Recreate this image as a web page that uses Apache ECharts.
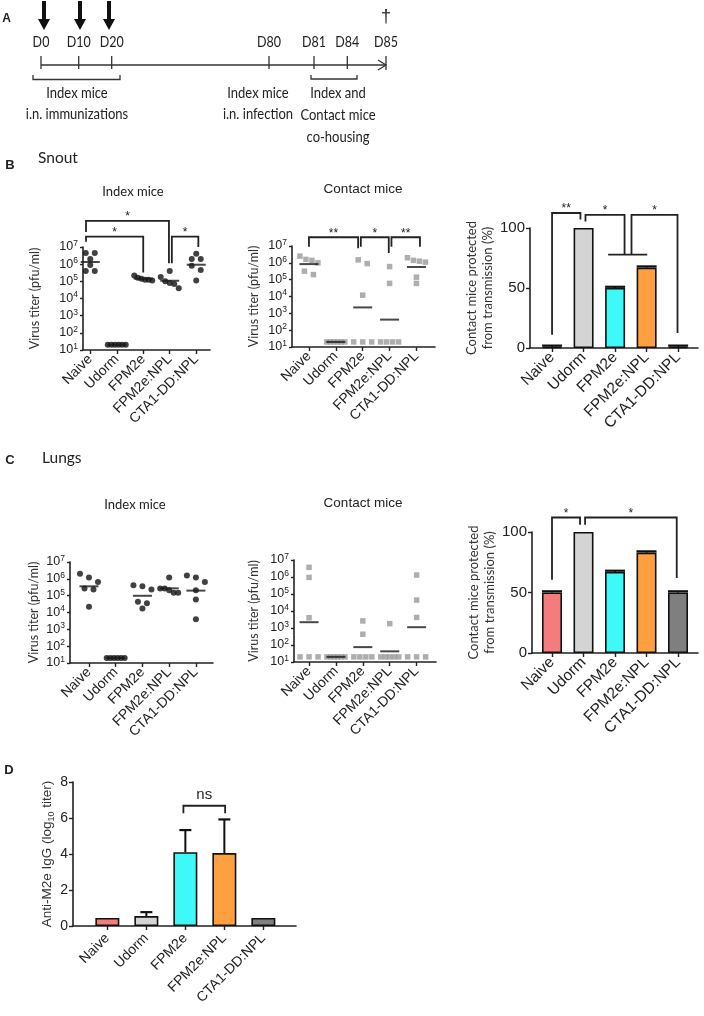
<!DOCTYPE html>
<html><head><meta charset="utf-8">
<script src="https://cdn.jsdelivr.net/npm/echarts@6/dist/echarts.min.js"></script>
<style>html,body{margin:0;padding:0;background:#fff}#c{width:704px;height:1016px}</style>
</head><body><div id="c"></div>
<script>
// ---------------- DATA ----------------
const groups = ['Naive', 'Udorm', 'FPM2e', 'FPM2e:NPL', 'CTA1-DD:NPL'];
const days = ['D0', 'D10', 'D20', 'D80', 'D81', 'D84', 'D85'];

// virus titers (pfu/ml), 6 mice per group
const snoutIndex = [
  [4.5e6, 4.5e6, 2e6, 9e5, 4e5, 4e5],
  [20, 20, 20, 20, 20, 20],
  [2.2e5, 1.6e5, 1.4e5, 1.25e5, 1.25e5, 1.1e5],
  [4e5, 1.8e5, 1e5, 8e4, 7e4, 4e4],
  [4e6, 2e6, 2e6, 8e5, 4.5e5, 1.1e5]
];
const snoutContact = [
  [2.5e6, 1.6e6, 1.4e6, 1e6, 3.2e5, 2e5],
  [20, 20, 20, 20, 20, 20],
  [1.5e6, 9e5, 1.2e4, 20, 20, 20],
  [6e5, 6e4, 20, 20, 20, 20],
  [2e6, 1.4e6, 1.25e6, 1.1e6, 1.4e5, 6e4]
];
const lungIndex = [
  [2e6, 1.2e6, 6.5e5, 2.7e5, 2.3e5, 2.2e4],
  [20, 20, 20, 20, 20, 20],
  [4.2e5, 3.6e5, 2.3e5, 4.4e4, 3.5e4, 1.7e4],
  [1.2e6, 2.7e5, 2.7e5, 2.1e5, 1.5e5, 1.5e5],
  [1.6e6, 1.2e6, 6.5e5, 2.1e5, 6e4, 4e3]
];
const lungContact = [
  [3.7e6, 9.5e5, 4e3, 20, 20, 20],
  [20, 20, 20, 20, 20, 20],
  [2.6e3, 4.3e2, 20, 20, 20, 20],
  [1.8e3, 20, 20, 20, 20, 20],
  [1.3e6, 4.4e4, 4.2e3, 20, 20, 20]
];
// contact mice protected from transmission (%)
const snoutProtected = [1, 100, 50, 67, 1];
const snoutProtectedErr = [1, 0, 1, 1, 1];
const lungProtected = [50, 100, 67, 83, 50];
const lungProtectedErr = [1, 0, 1, 1, 1];
// Anti-M2e IgG (log10 titer)
const antiM2eIgG = [0.45, 0.55, 4.1, 4.05, 0.45];
const antiM2eIgGErr = [0, 0.22, 1.23, 1.87, 0];

// significance brackets (x in group units, y in axis units; log axes as exponents)
const sigSnoutIndex = [
  {from: -0.16, to: 2.97, top: 8.52, legs: [7.88, 6.06], label: '*'},
  {from: -0.16, to: 2.0, top: 7.6, legs: [7.3, 5.51], label: '*'},
  {from: 3.08, to: 4.08, top: 7.6, legs: [6.06, 7.0], label: '*'}
];
const sigSnoutContact = [
  {from: 0, to: 1.83, top: 7.52, legs: [6.96, 6.86], label: '**'},
  {from: 1.93, to: 2.97, top: 7.52, legs: [6.96, 6.58], label: '*'},
  {from: 3.07, to: 4.13, top: 7.52, legs: [6.96, 6.96], label: '**'}
];
const sigSnoutBar = [
  {from: 0, to: 0.9, top: 112.5, legs: [11, 107], label: '**'},
  {from: 1.06, to: 2.3, top: 111, legs: [105.5, 77.75], label: '*'},
  {from: 2.52, to: 3.98, top: 111, legs: [77.75, 12.5], label: '*'}
];
const joinSnoutBar = {from: 1.78, to: 3.02, y: 77.75};
const sigLungBar = [
  {from: 0, to: 0.89, top: 112, legs: [60.6, 106], label: '*'},
  {from: 1.05, to: 3.96, top: 112, legs: [106, 62], label: '*'}
];
const sigIgG = [{from: 1.95, to: 3.02, top: 6.68, legs: [6.26, 6.26], label: 'ns'}];

// ---------------- STYLE ----------------
const AX = '#222';
const SANS = '"Liberation Sans", Arial, sans-serif';
const HUM = 'Lato, "Open Sans", sans-serif';
const barColors = ['#f47c7c', '#d4d4d4', '#3ff8f8', '#ffa040', '#7f7f7f'];
const grids = [
  {left: 83, top: 247, width: 127, height: 103},
  {left: 292, top: 246, width: 143, height: 101},
  {left: 530, top: 228, width: 168, height: 120},
  {left: 70, top: 562, width: 143, height: 101},
  {left: 294, top: 560, width: 142, height: 102},
  {left: 532, top: 532, width: 166, height: 121},
  {left: 73, top: 782, width: 223, height: 144}
];
const xRanges = [[-0.274, 4.52], [-0.63, 4.69], [-0.70, 4.63], [-0.71, 4.64], [-0.56, 4.72], [-0.635, 4.635], [-0.881, 4.837]];
const catIdx = groups.map((g, i) => i);

function xAx(i, fs, margin) {
  return {
    type: 'value', gridIndex: i, min: xRanges[i][0], max: xRanges[i][1],
    axisLine: {show: true, onZero: false, lineStyle: {color: AX, width: 1.6}},
    axisTick: {show: true, customValues: catIdx, length: 4, lineStyle: {color: AX, width: 1.4}},
    axisLabel: {customValues: catIdx, rotate: 45, formatter: v => groups[Math.round(v)], fontSize: fs,
      fontFamily: SANS, color: AX, margin: margin || 7},
    splitLine: {show: false}
  };
}
function logY(i, gap) {
  return {
    type: 'log', logBase: 10, gridIndex: i, min: 10, max: 1e7, splitNumber: 6,
    axisLine: {show: true, onZero: false, lineStyle: {color: AX, width: 1.6}},
    axisTick: {show: true, length: 3, lineStyle: {color: AX, width: 1.4}},
    minorTick: {show: false}, splitLine: {show: false},
    axisLabel: {margin: 5, formatter: v => '{b|10}{s|' + Math.round(Math.log10(v)) + '}',
      rich: {b: {fontSize: 12.5, fontFamily: SANS, color: AX, lineHeight: 16},
             s: {fontSize: 8.5, fontFamily: SANS, color: AX, lineHeight: 9, verticalAlign: 'top'}}},
    name: 'Virus titer (pfu/ml)', nameLocation: 'middle', nameGap: gap, nameRotate: 90,
    nameTextStyle: {fontFamily: HUM, fontSize: 12.5, color: '#333'}
  };
}
function pctY(i) {
  return {
    type: 'value', gridIndex: i, min: 0, max: 100, interval: 50,
    axisLine: {show: true, onZero: false, lineStyle: {color: AX, width: 1.6}},
    axisTick: {show: true, length: 4, lineStyle: {color: AX, width: 1.4}},
    splitLine: {show: false},
    axisLabel: {margin: 5, fontSize: 15, fontFamily: SANS, color: AX},
    name: 'Contact mice protected\nfrom transmission (%)', nameLocation: 'middle', nameGap: 33, nameRotate: 90,
    nameTextStyle: {fontFamily: HUM, fontSize: 13, lineHeight: 16, color: '#333'}
  };
}

// simple beeswarm spreading for overlapping points (pixel offsets)
function swarm(vals, maxSpread, maxStep) {
  const pxPerDec = 17;
  const order = vals.map((v, i) => i).sort((a, b) => vals[b] - vals[a]);
  const off = vals.map(() => 0);
  let cl = [];
  const flush = () => {
    const n = cl.length;
    if (n > 1) {
      const step = Math.min(maxStep, maxSpread / (n - 1));
      cl.forEach((k, j) => { off[k] = (j - (n - 1) / 2) * step; });
    }
    cl = [];
  };
  order.forEach(k => {
    if (cl.length && Math.abs(Math.log10(vals[cl[cl.length - 1]]) - Math.log10(vals[k])) * pxPerDec >= 5) flush();
    cl.push(k);
  });
  flush();
  return off;
}
function geoMean(a) { return Math.pow(10, a.reduce((s, v) => s + Math.log10(v), 0) / a.length); }

function scatterSeries(i, data, isIndex) {
  const pts = [];
  data.forEach((vals, g) => {
    const off = swarm(vals, 18, 9);
    vals.forEach((v, k) => pts.push({value: [g, v], symbolOffset: [off[k], 0]}));
  });
  return [
    {type: 'scatter', xAxisIndex: i, yAxisIndex: i, data: pts,
      symbol: isIndex ? 'circle' : 'rect', symbolSize: isIndex ? 6 : 5.5,
      itemStyle: {color: isIndex ? '#111' : '#9a9a9a'}, z: 3},
    {type: 'scatter', xAxisIndex: i, yAxisIndex: i, data: data.map((vals, g) => [g, geoMean(vals)]),
      symbol: 'rect', symbolSize: [19, 2], itemStyle: {color: '#1a1a1a'}, z: 4}
  ];
}
function barSeries(i, vals, errs, bw, capW) {
  return [
    {type: 'bar', xAxisIndex: i, yAxisIndex: i, barWidth: bw,
      data: vals.map((v, k) => ({value: [k, v], itemStyle: {color: barColors[k]}})),
      itemStyle: {borderColor: '#111', borderWidth: 1.6}, z: 2},
    {type: 'custom', xAxisIndex: i, yAxisIndex: i, z: 5,
      data: vals.map((v, k) => [k, v, errs[k]]),
      renderItem: (p, api) => {
        const e = api.value(2);
        if (!e) return null;
        const a = api.coord([api.value(0), api.value(1)]);
        const b = api.coord([api.value(0), api.value(1) + e]);
        return {type: 'group', children: [
          {type: 'line', shape: {x1: a[0], y1: a[1], x2: b[0], y2: b[1]}, style: {stroke: '#111', lineWidth: 2}},
          {type: 'line', shape: {x1: b[0] - capW / 2, y1: b[1], x2: b[0] + capW / 2, y2: b[1]}, style: {stroke: '#111', lineWidth: 2.2}}
        ]};
      }}
  ];
}

const chart = echarts.init(document.getElementById('c'));
const option = {
  animation: false,
  backgroundColor: '#fff',
  grid: grids,
  xAxis: [xAx(0, 14), xAx(1, 14), xAx(2, 15.5), xAx(3, 14), xAx(4, 14), xAx(5, 15.5), xAx(6, 14, 10)],
  yAxis: [
    logY(0, 42), logY(1, 32), pctY(2), logY(3, 30), logY(4, 34), pctY(5),
    {type: 'value', gridIndex: 6, min: 0, max: 8, interval: 2,
      axisLine: {show: true, onZero: false, lineStyle: {color: AX, width: 1.6}},
      axisTick: {show: true, length: 4, lineStyle: {color: AX, width: 1.4}},
      splitLine: {show: false},
      axisLabel: {margin: 5, fontSize: 14, fontFamily: SANS, color: AX},
      name: '{a|Anti-M2e IgG (log}{s|10}{a| titer)}', nameLocation: 'middle', nameGap: 16, nameRotate: 90,
      nameTextStyle: {rich: {a: {fontSize: 13.5, fontFamily: SANS, color: '#333', lineHeight: 18},
                             s: {fontSize: 9, fontFamily: SANS, color: '#333', lineHeight: 10, verticalAlign: 'bottom'}}}}
  ],
  series: [].concat(
    scatterSeries(0, snoutIndex, true),
    scatterSeries(1, snoutContact, false),
    barSeries(2, snoutProtected, snoutProtectedErr, 20, 20),
    scatterSeries(3, lungIndex, true),
    scatterSeries(4, lungContact, false),
    barSeries(5, lungProtected, lungProtectedErr, 20, 20),
    barSeries(6, antiM2eIgG, antiM2eIgGErr, 24, 12)
  )
};
chart.setOption(option);

// ---------------- ANNOTATIONS ----------------
const G = [];
function T(text, x, y, font, o) {
  o = o || {};
  G.push({type: 'text', x: x, y: y, scaleY: o.sy || 1, z: 100,
    style: {text: text, x: 0, y: 0, align: o.align || 'center', verticalAlign: o.va || 'middle',
      font: font, fill: o.color || '#222'}});
}
function L(pts, w, c) {
  G.push({type: 'polyline', z: 100, shape: {points: pts}, style: {stroke: c || '#222', lineWidth: w || 1.8, fill: null}});
}
function bracket(gi, b, isLog, font, lift) {
  const f = v => isLog ? Math.pow(10, v) : v;
  const p1 = chart.convertToPixel({gridIndex: gi}, [b.from, f(b.legs[0])]);
  const p2 = chart.convertToPixel({gridIndex: gi}, [b.to, f(b.legs[1])]);
  const pt = chart.convertToPixel({gridIndex: gi}, [b.from, f(b.top)]);
  L([[p1[0], p1[1]], [p1[0], pt[1]], [p2[0], pt[1]], [p2[0], p2[1]]], 1.8);
  T(b.label, (p1[0] + p2[0]) / 2, pt[1] - (lift || 4), font || ('12px ' + SANS));
}
sigSnoutIndex.forEach(b => bracket(0, b, true));
sigSnoutContact.forEach(b => bracket(1, b, true));
sigSnoutBar.forEach(b => bracket(2, b, false));
(function () {
  const a = chart.convertToPixel({gridIndex: 2}, [joinSnoutBar.from, joinSnoutBar.y]);
  const b = chart.convertToPixel({gridIndex: 2}, [joinSnoutBar.to, joinSnoutBar.y]);
  L([a, b], 1.8);
})();
sigLungBar.forEach(b => bracket(5, b, false));
sigIgG.forEach(b => bracket(6, b, false, '15px ' + SANS, 11));

// panel letters & headings
T('A', 6.5, 19, 'bold 12px ' + SANS);
T('B', 10, 165, 'bold 13px ' + SANS);
T('Snout', 38, 158, '15.5px ' + HUM, {align: 'left'});
T('C', 10, 460, 'bold 13px ' + SANS);
T('Lungs', 42, 458, '15.5px ' + HUM, {align: 'left'});
T('D', 9, 770, 'bold 13px ' + SANS);
T('Index mice', 133, 192, '13px ' + HUM);
T('Contact mice', 363, 189, '13.5px ' + SANS);
T('Index mice', 135, 505, '13px ' + HUM);
T('Contact mice', 363, 503, '13.5px ' + SANS);

// panel A: timeline schematic
const tlY = 65;
const tickX = [41, 78.7, 111.7, 269, 314, 347.3, 386];
L([[41, tlY], [386, tlY]], 1.3, '#333');
tickX.slice(0, 6).forEach(x => L([[x, 56], [x, 69]], 1.3, '#333'));
L([[378, 60], [386, tlY], [378, 70]], 1.3, '#333');
L([[386, 56], [386, 70]], 1.3, '#333');
days.forEach((d, i) => T(d, tickX[i], 42, '12.5px ' + HUM, {sy: 1.3}));
[44, 80, 109].forEach(x => G.push({type: 'polygon', z: 100,
  shape: {points: [[x - 2, 1], [x + 2, 1], [x + 2, 19], [x + 6, 19], [x, 30], [x - 6, 19], [x - 2, 19]]},
  style: {fill: '#111'}}));
T('\u2020', 386, 17, '18px ' + SANS);
L([[33, 75], [33, 79.5], [120, 79.5], [120, 75]], 1.3, '#333');
L([[311, 75], [311, 79], [357, 79], [357, 75]], 1.3, '#333');
T('Index mice', 77, 93, '13px ' + HUM, {sy: 1.25});
T('i.n. immunizations', 77, 114, '13px ' + HUM, {sy: 1.25});
T('Index mice', 258, 93, '13px ' + HUM, {sy: 1.25});
T('i.n. infection', 258, 114, '13px ' + HUM, {sy: 1.25});
T('Index and', 338, 93, '13px ' + HUM, {sy: 1.25});
T('Contact mice', 338, 115, '13px ' + HUM, {sy: 1.25});
T('co-housing', 338, 137, '13px ' + HUM, {sy: 1.25});

chart.setOption({graphic: {elements: G}});
</script></body></html>
